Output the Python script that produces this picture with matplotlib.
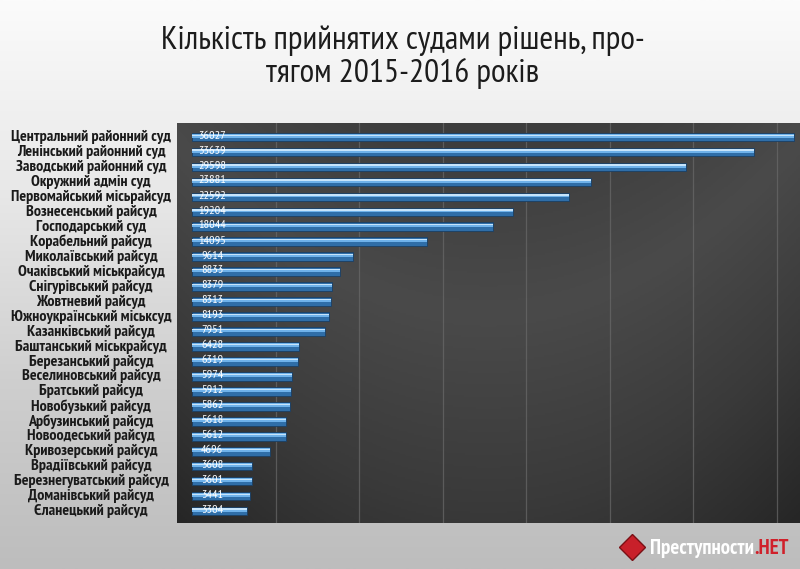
import numpy as np
import matplotlib
matplotlib.use("Agg")
import matplotlib.pyplot as plt
from matplotlib.colors import LinearSegmentedColormap
from matplotlib.text import Annotation

courts = [
    "Центральний районний суд", "Ленінський районний суд", "Заводський районний суд",
    "Окружний адмін суд", "Первомайський місьрайсуд", "Вознесенський райсуд",
    "Господарський суд", "Корабельний райсуд", "Миколаївський райсуд",
    "Очаківський міськрайсуд", "Снігурівський райсуд", "Жовтневий райсуд",
    "Южноукраїнський міськсуд", "Казанківський райсуд", "Баштанський міськрайсуд",
    "Березанський райсуд", "Веселиновський райсуд", "Братський райсуд",
    "Новобузький райсуд", "Арбузинський райсуд", "Новоодеський райсуд",
    "Кривозерський райсуд", "Врадіївський райсуд", "Березнегуватський райсуд",
    "Доманівський райсуд", "Єланецький райсуд",
]
decisions = [36027, 33639, 29598, 23881, 22592, 19204, 18044, 14095, 9614, 8833,
             8379, 8313, 8193, 7951, 6428, 6319, 5974, 5912, 5862, 5618, 5612,
             4696, 3608, 3601, 3441, 3304]
title_text = "Кількість прийнятих судами рішень, про-\nтягом 2015-2016 років"
grid_ticks = [5000, 10000, 15000, 20000, 25000, 30000, 35000]

FONT = ["Ubuntu Condensed", "PT Sans Narrow", "Roboto Condensed",
        "IBM Plex Sans Condensed", "DejaVu Sans"]

W, H = 800, 569
fig = plt.figure(figsize=(W / 100, H / 100), dpi=100)

# figure background gradient
bg = fig.add_axes([0, 0, 1, 1], zorder=-10)
g = np.linspace(0, 1, 256)[:, None]
bg_cmap = LinearSegmentedColormap.from_list("bg", ["#fbfbfb", "#e8e8e8", "#cfcfcf", "#bdbdbd"])
bg.imshow(g, aspect="auto", cmap=bg_cmap, extent=[0, 1, 0, 1], origin="upper")
bg.set_axis_off()
bg.set_xlim(0, 1)
bg.set_ylim(0, 1)

ax = fig.add_axes([177 / W, 1 - 523 / H, 1 - 177 / W, (523 - 123) / H])
n = len(courts)
y = np.arange(n)

# axes dark gradient background
ax_cmap = LinearSegmentedColormap.from_list("ax", ["#3c3c3c", "#4a4a4a", "#3a3a3a", "#262626"])
xx = np.linspace(-1, 1, 300)
yy = np.linspace(0, 1, 200)[:, None]
grad = yy * 0.7 + 0.3 * (xx[None, :] ** 2)
ax.imshow(grad, aspect="auto", cmap=ax_cmap, extent=[0, 1, 0, 1],
          transform=ax.transAxes, origin="upper", zorder=0)

ax.set_xlim(-900, 36400)
ax.set_ylim(n - 1 + 0.8, -0.94)

for t in grid_ticks:
    ax.axvline(t, color="#6a6a6a", lw=0.9, alpha=0.7, zorder=1)

# glossy bars
ax.barh(y, decisions, height=0.58, color="#2f6ea8", edgecolor="#1b3f63", lw=0.6, zorder=3)
ax.barh(y - 0.08, decisions, height=0.24, color="#6fb2ea", lw=0, zorder=4)
ax.barh(y - 0.13, decisions, height=0.08, color="#c6e4fb", lw=0, zorder=5)

for yi, v in zip(y, decisions):
    ax.text(1200, yi - 0.1, str(v), color="white", fontsize=8.8, ha="center",
            va="center", zorder=6, family=FONT)

ax.set_yticks(y)
ax.set_yticklabels([])
ax.set_xticks([])
for s in ax.spines.values():
    s.set_visible(False)
ax.tick_params(length=0)

for yi, name in zip(y, courts):
    ax.annotate(name, xy=(0, yi), xycoords=("axes fraction", "data"),
                xytext=(91, 0), textcoords=("figure pixels", "offset points"),
                ha="center", va="center", fontsize=11.5, color="#1a1a1a",
                fontweight="bold", family=FONT, annotation_clip=False)

fig.text(0.503, 1 - 57 / H, title_text, ha="center", va="center", fontsize=24,
         color="#1c1c1c", family=FONT, linespacing=1.1)

# logo
t1 = fig.text(650 / W, 1 - 549 / H, "Преступности", ha="left", va="center",
              fontsize=15, color="white", fontweight="bold", family=FONT)
fig.add_artist(Annotation(".НЕТ", xy=(1, 0.5), xycoords=t1, xytext=(0, 0),
                          textcoords="offset points", ha="left", va="center",
                          fontsize=15, color="#d0202a", fontweight="bold", family=FONT))
bg.plot([632 / W], [1 - 547 / H], marker="D", markersize=13, color="#c8202a",
        markeredgecolor="#7a1015", transform=bg.transAxes, zorder=5)

fig.savefig("out.png", dpi=100)
